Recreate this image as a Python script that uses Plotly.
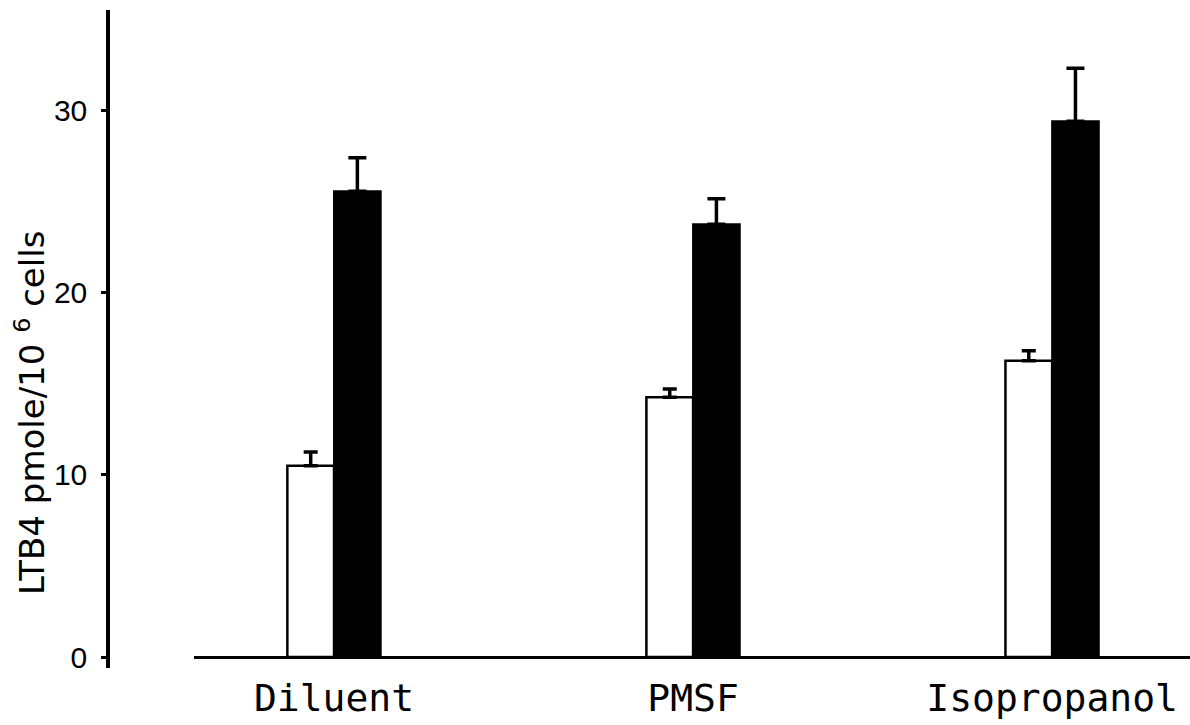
import plotly.graph_objects as go

categories = ["Diluent", "PMSF", "Isopropanol"]
control_values = [10.5, 14.25, 16.25]
control_errors = [0.75, 0.45, 0.55]
treated_values = [25.55, 23.75, 29.4]
treated_errors = [1.85, 1.4, 2.9]
y_tick_values = [0, 10, 20, 30]
y_tick_labels = ["0", "10", "20", "30"]
y_title = "LTB4 pmole/10 <sup>6</sup> cells"

W, H = 1190, 725
ML, MR, MT, MB = 108, 0, 10, 57
plot_w = W - ML - MR
x_start_px = 194

fig = go.Figure()
fig.add_trace(go.Bar(
    x=categories, y=control_values,
    marker=dict(color="white", line=dict(color="black", width=2.5)),
    error_y=dict(type="data", array=control_errors, arrayminus=[0] * len(categories),
                 symmetric=False, color="black", thickness=3.5, width=7),
    showlegend=False,
))
fig.add_trace(go.Bar(
    x=categories, y=treated_values,
    marker=dict(color="black", line=dict(color="black", width=2)),
    error_y=dict(type="data", array=treated_errors, arrayminus=[0] * len(categories),
                 symmetric=False, color="black", thickness=3.5, width=9),
    showlegend=False,
))

fig.update_layout(
    width=W, height=H,
    margin=dict(l=ML, r=MR, t=MT, b=MB, pad=0),
    paper_bgcolor="white", plot_bgcolor="white",
    barmode="group", bargap=0.74, bargroupgap=0,
    xaxis=dict(
        domain=[(x_start_px - ML) / plot_w, 1],
        range=[-0.39, 2.384],
        showline=False, showgrid=False, zeroline=False, ticks="",
        tickfont=dict(family="DejaVu Sans Mono", size=38, color="black"),
        ticklabelstandoff=4,
    ),
    yaxis=dict(
        anchor="free", position=0,
        range=[-0.6, 35.5],
        showline=True, linecolor="black", linewidth=3.5,
        showgrid=False,
        zeroline=True, zerolinecolor="black", zerolinewidth=3,
        ticks="outside", ticklen=5, tickwidth=2.5, tickcolor="black",
        tickvals=y_tick_values, ticktext=y_tick_labels,
        tickfont=dict(family="Liberation Sans", size=30, color="black"),
        ticklabelstandoff=8,
    ),
    annotations=[dict(
        text=y_title, textangle=-90,
        xref="paper", yref="paper",
        x=(30 - ML) / plot_w, y=(H - MB - 413) / (H - MT - MB),
        xanchor="center", yanchor="middle", showarrow=False,
        font=dict(family="DejaVu Sans", size=34, color="black"),
    )],
)

fig.write_html("out.html")
